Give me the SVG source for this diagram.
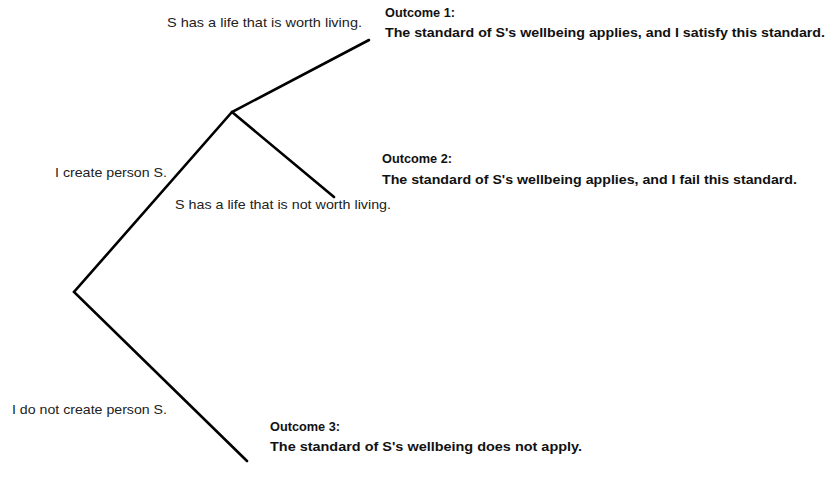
<svg xmlns="http://www.w3.org/2000/svg" width="827" height="482" viewBox="0 0 827 482">
<style>
.lbl{font-family:"Liberation Sans",Arial,sans-serif;font-size:13.5px;fill:#222}
.out{font-family:"Liberation Sans",Arial,sans-serif;font-size:13.5px;font-weight:bold;fill:#111}
.edge{stroke:#000;stroke-width:2.6;fill:none;stroke-linecap:round;stroke-linejoin:miter}
</style>
<rect width="827" height="482" fill="#fff"/>
<g id="connectors">
<polyline class="edge" points="369,40 232,112 74,292 247,461"/>
<line class="edge" x1="232" y1="112" x2="334" y2="197"/>
</g>
<g id="root"><text class="lbl" x="55" y="177" textLength="112" lengthAdjust="spacingAndGlyphs">I create person S.</text>
<text class="lbl" x="12" y="414" textLength="155" lengthAdjust="spacingAndGlyphs">I do not create person S.</text></g>
<g id="branch"><text class="lbl" x="167" y="27" textLength="195" lengthAdjust="spacingAndGlyphs">S has a life that is worth living.</text>
<text class="lbl" x="175" y="209" textLength="216" lengthAdjust="spacingAndGlyphs">S has a life that is not worth living.</text></g>
<g id="outcome1"><text class="out" x="385" y="17" textLength="70" lengthAdjust="spacingAndGlyphs">Outcome 1:</text>
<text class="out" x="385" y="37" textLength="440" lengthAdjust="spacingAndGlyphs">The standard of S's wellbeing applies, and I satisfy this standard.</text></g>
<g id="outcome2"><text class="out" x="382" y="163" textLength="70" lengthAdjust="spacingAndGlyphs">Outcome 2:</text>
<text class="out" x="382" y="184" textLength="415" lengthAdjust="spacingAndGlyphs">The standard of S's wellbeing applies, and I fail this standard.</text></g>
<g id="outcome3"><text class="out" x="270" y="431" textLength="70" lengthAdjust="spacingAndGlyphs">Outcome 3:</text>
<text class="out" x="270" y="451" textLength="312" lengthAdjust="spacingAndGlyphs">The standard of S's wellbeing does not apply.</text></g>
</svg>
